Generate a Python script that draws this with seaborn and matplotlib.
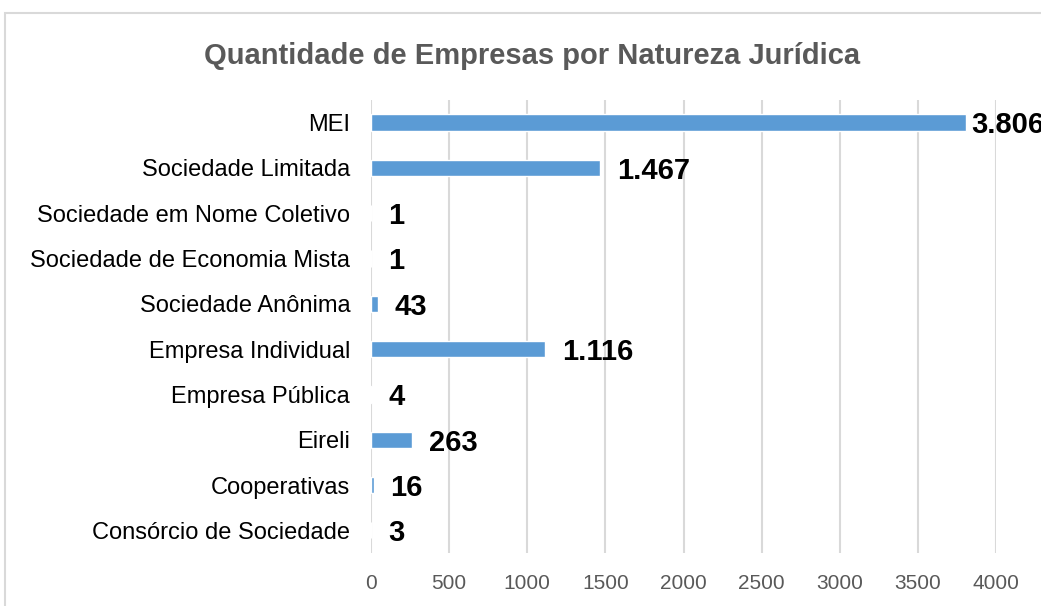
import matplotlib
matplotlib.use("Agg")
import pandas as pd
import seaborn as sns
import matplotlib.pyplot as plt
from matplotlib.patches import Rectangle

categorias = ["MEI", "Sociedade Limitada", "Sociedade em Nome Coletivo",
              "Sociedade de Economia Mista", "Sociedade Anônima",
              "Empresa Individual", "Empresa Pública", "Eireli",
              "Cooperativas", "Consórcio de Sociedade"]
quantidades = [3806, 1467, 1, 1, 43, 1116, 4, 263, 16, 3]
ticks_x = [0, 500, 1000, 1500, 2000, 2500, 3000, 3500, 4000]

df = pd.DataFrame({"categoria": categorias, "quantidade": quantidades})

sns.set_style("white")
plt.rcParams["font.family"] = ["Liberation Sans", "DejaVu Sans"]

fig = plt.figure(figsize=(10.41, 6.06), dpi=100)
ax = fig.add_axes([0.3564, 0.0875, 0.6004, 0.7475])

sns.barplot(data=df, x="quantidade", y="categoria", color="#5B9BD5",
            saturation=1, width=0.36, ax=ax, orient="h")

ax.set_xlim(0, 4000)
ax.set_xticks(ticks_x)
ax.set_xticklabels([str(t) for t in ticks_x])
ax.xaxis.grid(True, color="#d9d9d9", linewidth=1.5)
ax.set_axisbelow(True)
for s in ax.spines.values():
    s.set_visible(False)
ax.tick_params(axis="x", length=0, pad=15, labelsize=15, labelcolor="#595959")
ax.tick_params(axis="y", length=0, pad=15, labelsize=17, labelcolor="#000000")
ax.set_xlabel("")
ax.set_ylabel("")

for i, v in enumerate(quantidades):
    txt = f"{v:,}".replace(",", ".")
    # the longest label gets pulled in towards its bar, as in the original
    dx = 4 if v == max(quantidades) else 12
    ax.annotate(txt, xy=(v, i), xytext=(dx, -2), textcoords="offset points",
                ha="left", va="center", fontsize=21, fontweight="bold",
                color="black", annotation_clip=False)

fig.text(0.511, 0.908, "Quantidade de Empresas por Natureza Jurídica",
         ha="center", va="center", fontsize=21, fontweight="bold",
         color="#595959")

fig.patches.append(Rectangle((5 / 1041, -0.1), 1.2, 0.1 + 1 - 13 / 606,
                             transform=fig.transFigure, fill=False,
                             edgecolor="#d9d9d9", linewidth=1.5, zorder=-1))

fig.savefig("out.png", dpi=100)
